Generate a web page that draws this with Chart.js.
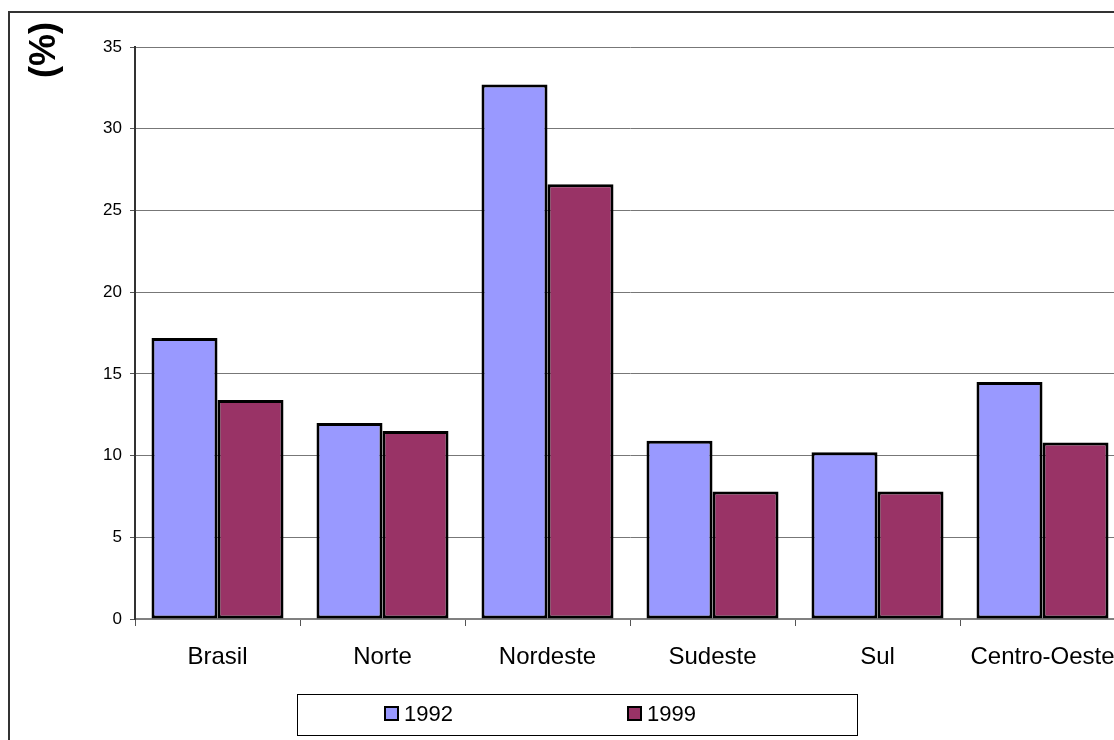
<!DOCTYPE html>
<html>
<head>
<meta charset="utf-8">
<script src="https://cdn.jsdelivr.net/npm/chart.js@4/dist/chart.umd.min.js"></script>
<style>
  html, body { margin: 0; padding: 0; background: #fff; overflow: hidden; width: 1114px; height: 740px; }
  #frame { position: absolute; left: 8px; top: 11px; width: 1200px; height: 800px;
           border-left: 2px solid #333; border-top: 2px solid #333; box-sizing: border-box; }
  #wrap { position: absolute; left: 0; top: 0; width: 1140px; height: 740px; }
</style>
</head>
<body>
<div id="frame"></div>
<div id="wrap"><canvas id="c" width="1140" height="740"></canvas></div>
<script>
// Regions and percentages for the two survey years
const categories = ['Brasil', 'Norte', 'Nordeste', 'Sudeste', 'Sul', 'Centro-Oeste'];
const values1992 = [17.2, 12.0, 32.7, 10.9, 10.2, 14.5];
const values1999 = [13.4, 11.5, 26.6, 7.8, 7.8, 10.8];
const seriesLabels = ['1992', '1999'];
const yTickValues = [0, 5, 10, 15, 20, 25, 30, 35];
const axisTitle = '(%)';

const FONT = '"Liberation Sans", Arial, Helvetica, sans-serif';

// Rotated bold axis caption in the top-left corner
const cornerTitle = {
  id: 'cornerTitle',
  afterDraw(chart) {
    const ctx = chart.ctx;
    ctx.save();
    ctx.translate(45, 50);
    ctx.rotate(-Math.PI / 2);
    ctx.fillStyle = '#000';
    ctx.font = 'bold 36px ' + FONT;
    ctx.textAlign = 'center';
    ctx.textBaseline = 'middle';
    ctx.fillText(axisTitle, 0, 0);
    ctx.restore();
  }
};

// Framed legend under the category labels
const framedLegend = {
  id: 'framedLegend',
  afterDraw(chart) {
    const ctx = chart.ctx;
    ctx.save();
    ctx.strokeStyle = '#000';
    ctx.lineWidth = 1;
    ctx.strokeRect(297.5, 694.5, 560, 41);
    const itemX = [385, 628];
    const cy = 714;
    chart.data.datasets.forEach((ds, i) => {
      const x = itemX[i];
      ctx.fillStyle = ds.backgroundColor;
      ctx.fillRect(x, cy - 7, 13, 13);
      ctx.lineWidth = 2;
      ctx.strokeStyle = '#000';
      ctx.strokeRect(x, cy - 7, 13, 13);
      ctx.fillStyle = '#000';
      ctx.font = '22px ' + FONT;
      ctx.textAlign = 'left';
      ctx.textBaseline = 'middle';
      ctx.fillText(ds.label, x + 19, cy + 1);
    });
    ctx.restore();
  }
};

new Chart(document.getElementById('c'), {
  type: 'bar',
  data: {
    labels: categories,
    datasets: [
      { label: seriesLabels[0], data: values1992, backgroundColor: '#9999FF' },
      { label: seriesLabels[1], data: values1999, backgroundColor: '#993366' }
    ]
  },
  options: {
    responsive: false,
    devicePixelRatio: 1,
    animation: false,
    layout: { padding: { top: 47, right: 15, bottom: 0, left: 0 } },
    datasets: {
      bar: {
        categoryPercentage: 0.8,
        barPercentage: 1.0,
        borderColor: '#000',
        borderWidth: 3,
        borderSkipped: false
      }
    },
    plugins: {
      legend: { display: false },
      tooltip: { enabled: false }
    },
    scales: {
      x: {
        offset: true,
        grid: {
          offset: true,
          drawOnChartArea: false,
          drawTicks: true,
          tickLength: 7,
          tickColor: '#555'
        },
        border: { color: '#808080', width: 2 },
        ticks: {
          autoSkip: false,
          maxRotation: 0,
          padding: 17,
          color: '#000',
          font: { family: FONT, size: 24 }
        },
        afterFit(scale) { scale.height = 121; }
      },
      y: {
        min: 0,
        max: 35,
        afterBuildTicks(scale) { scale.ticks = yTickValues.map(v => ({ value: v })); },
        grid: { color: '#777', lineWidth: 1, tickLength: 5, tickColor: '#555' },
        border: { color: '#333', width: 2 },
        ticks: {
          padding: 8,
          color: '#000',
          font: { family: FONT, size: 17 }
        },
        afterFit(scale) { scale.width = 135; }
      }
    }
  },
  plugins: [cornerTitle, framedLegend]
});
</script>
</body>
</html>
